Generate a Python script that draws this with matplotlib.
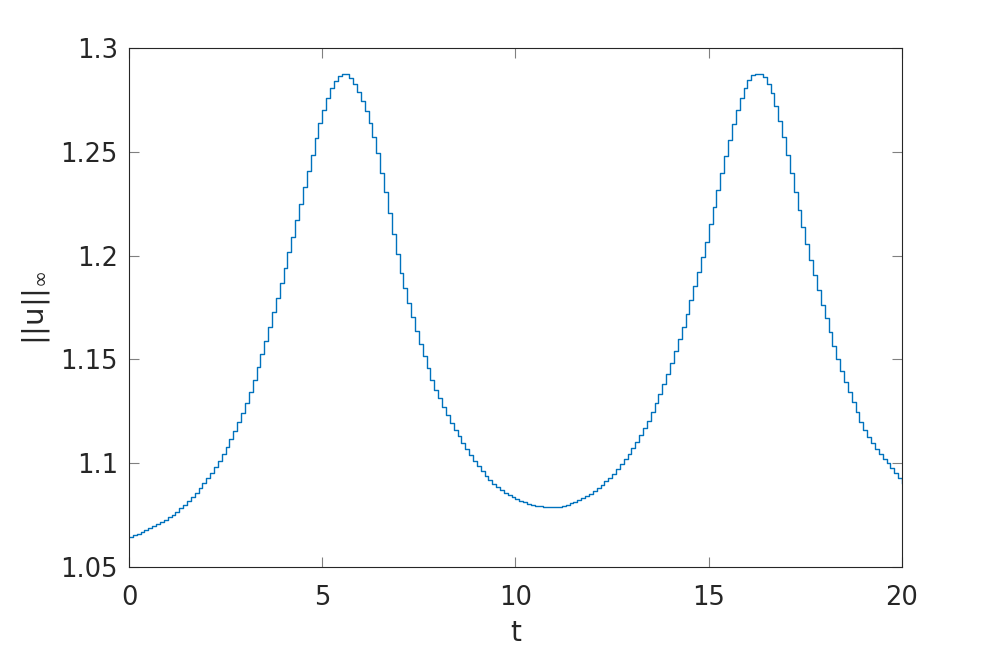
import matplotlib
matplotlib.use("Agg")
import matplotlib.pyplot as plt
import numpy as np

u_inf = [
    1.0645, 1.0653, 1.0661, 1.0669, 1.0677, 1.0686, 1.0696, 1.0706, 1.0716, 1.0727,
    1.0739, 1.0752, 1.0767, 1.0783, 1.0800, 1.0818, 1.0837, 1.0858, 1.0880, 1.0903,
    1.0928, 1.0955, 1.0983, 1.1013, 1.1045, 1.1080, 1.1117, 1.1157, 1.1199, 1.1244,
    1.1292, 1.1345, 1.1402, 1.1462, 1.1525, 1.1590, 1.1657, 1.1726, 1.1796, 1.1868,
    1.1941, 1.2016, 1.2092, 1.2170, 1.2249, 1.2329, 1.2408, 1.2486, 1.2565, 1.2638,
    1.2703, 1.2760, 1.2806, 1.2840, 1.2863, 1.2875, 1.2876, 1.2855, 1.2826, 1.2788,
    1.2746, 1.2697, 1.2638, 1.2570, 1.2494, 1.2400, 1.2305, 1.2205, 1.2105, 1.2010,
    1.1918, 1.1842, 1.1773, 1.1705, 1.1639, 1.1576, 1.1515, 1.1457, 1.1401, 1.1355,
    1.1312, 1.1271, 1.1232, 1.1196, 1.1162, 1.1129, 1.1097, 1.1067, 1.1039, 1.1012,
    1.0986, 1.0962, 1.0940, 1.0920, 1.0902, 1.0886, 1.0871, 1.0858, 1.0846, 1.0835,
    1.0826, 1.0818, 1.0811, 1.0805, 1.0800, 1.0796, 1.0793, 1.0791, 1.0789, 1.0788,
    1.0789, 1.0791, 1.0795, 1.0800, 1.0806, 1.0813, 1.0821, 1.0830, 1.0840, 1.0852,
    1.0865, 1.0879, 1.0895, 1.0912, 1.0930, 1.0950, 1.0971, 1.0994, 1.1018, 1.1044,
    1.1072, 1.1102, 1.1134, 1.1168, 1.1205, 1.1245, 1.1288, 1.1333, 1.1381, 1.1432,
    1.1485, 1.1540, 1.1598, 1.1658, 1.1720, 1.1785, 1.1852, 1.1921, 1.1992, 1.2065,
    1.2150, 1.2232, 1.2315, 1.2398, 1.2478, 1.2555, 1.2632, 1.2700, 1.2760, 1.2808,
    1.2845, 1.2868, 1.2877, 1.2874, 1.2858, 1.2828, 1.2785, 1.2722, 1.2650, 1.2570,
    1.2484, 1.2396, 1.2308, 1.2222, 1.2138, 1.2058, 1.1980, 1.1905, 1.1833, 1.1764,
    1.1698, 1.1630, 1.1565, 1.1503, 1.1445, 1.1392, 1.1342, 1.1293, 1.1245, 1.1199,
    1.1158, 1.1124, 1.1095, 1.1070, 1.1046, 1.1022, 1.0999, 1.0975, 1.0952, 1.0928,
    1.0905,
]
t = np.arange(len(u_inf)) * 0.1

x_ticks = [0, 5, 10, 15, 20]
y_ticks = [1.05, 1.1, 1.15, 1.2, 1.25, 1.3]
y_labels = ['1.05', '1.1', '1.15', '1.2', '1.25', '1.3']

plt.rcParams['font.family'] = ['DejaVu Sans']
plt.rcParams['mathtext.default'] = 'regular'

fig = plt.figure(figsize=(9.97, 6.48), dpi=100)
ax = fig.add_axes([0.1294, 0.125, 0.7753, 0.8009])

ax.step(t, u_inf, where='post', color='#0072BD', linewidth=1.0)

ax.set_xlim(0, 20)
ax.set_ylim(1.05, 1.3)
ax.set_xticks(x_ticks)
ax.set_yticks(y_ticks)
ax.set_yticklabels(y_labels)

axis_col = '#262626'
for s in ax.spines.values():
    s.set_color(axis_col)
    s.set_linewidth(0.8)
ax.tick_params(direction='in', length=7, width=0.8, color='#808080',
               labelsize=18.5, labelcolor=axis_col, top=True, right=True)
ax.tick_params(axis='x', pad=13)
ax.tick_params(axis='y', pad=8)

ax.set_xlabel('t', fontsize=20, color=axis_col, labelpad=6)
ax.set_ylabel(r'||u||$_\infty$', fontsize=21, color=axis_col)
ax.yaxis.set_label_coords(-0.1, 0.5)

fig.savefig('out.png', dpi=100)
